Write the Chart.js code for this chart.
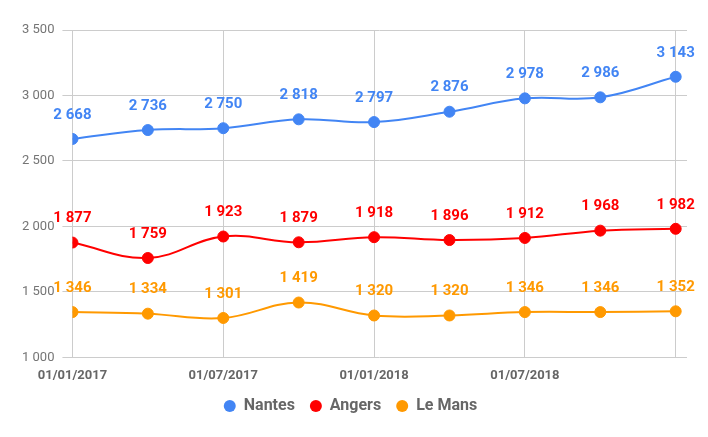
<!DOCTYPE html>
<html>
<head>
<meta charset="utf-8">
<script src="https://cdn.jsdelivr.net/npm/chart.js@4.4.1/dist/chart.umd.min.js"></script>
<style>
  html, body { margin: 0; padding: 0; background: #fff; }
  #wrap { width: 708px; height: 437px; }
</style>
</head>
<body>
<div id="wrap"><canvas id="chart" width="708" height="437"></canvas></div>
<script>
// quarterly dates, only every other one gets a label
const dates = ['01/01/2017', '01/04/2017', '01/07/2017', '01/10/2017', '01/01/2018',
  '01/04/2018', '01/07/2018', '01/10/2018', '01/01/2019'];
const tickLabels = ['01/01/2017', '', '01/07/2017', '', '01/01/2018', '', '01/07/2018', '', ''];

const nantes = [2668, 2736, 2750, 2818, 2797, 2876, 2978, 2986, 3143];
const angers = [1877, 1759, 1923, 1879, 1918, 1896, 1912, 1968, 1982];
const leMans = [1346, 1334, 1301, 1419, 1320, 1320, 1346, 1346, 1352];

const yTicks = [1000, 1500, 2000, 2500, 3000, 3500];

// french style thousands: "2 668"
const fmt = (v) => String(Math.round(v)).replace(/\B(?=(\d{3})+(?!\d))/g, ' ');

const toPoints = (arr) => arr.map((v, i) => ({ x: i, y: v }));

const makeSet = (label, values, color) => ({
  label: label,
  data: toPoints(values),
  borderColor: color,
  backgroundColor: color,
  pointBackgroundColor: color,
  pointBorderColor: color,
  pointRadius: 5.5,
  pointBorderWidth: 1,
  pointHoverRadius: 5.5,
  borderWidth: 2,
  tension: 0.4,
});

// draws the value above each point (no datalabels plugin available offline)
const valueLabels = {
  id: 'valueLabels',
  afterDatasetsDraw(chart) {
    const ctx = chart.ctx;
    ctx.save();
    ctx.font = 'bold 15px Roboto';
    ctx.textAlign = 'center';
    ctx.textBaseline = 'middle';
    chart.data.datasets.forEach((ds, di) => {
      const meta = chart.getDatasetMeta(di);
      ctx.fillStyle = ds.borderColor;
      meta.data.forEach((pt, i) => {
        ctx.fillText(fmt(ds.data[i].y), pt.x, pt.y - 24);
      });
    });
    ctx.restore();
  }
};

const ctx = document.getElementById('chart').getContext('2d');
new Chart(ctx, {
  type: 'line',
  data: {
    datasets: [
      makeSet('Nantes', nantes, '#4285F4'),
      makeSet('Angers', angers, '#FF0000'),
      makeSet('Le Mans', leMans, '#FF9900'),
    ],
  },
  options: {
    responsive: false,
    animation: false,
    layout: { padding: { left: 14, right: 21, top: 30, bottom: 13 } },
    scales: {
      x: {
        type: 'linear',
        min: 0,
        max: 8.15,
        border: { display: false },
        // pull the plot down closer to the legend
        afterFit: (axis) => { axis.height -= 12; },
        grid: {
          drawTicks: false,
          color: (c) => (c.tick && c.tick.value % 2 === 0 ? '#cccccc' : 'rgba(0,0,0,0)'),
          lineWidth: 1,
        },
        ticks: {
          stepSize: 1,
          includeBounds: false,
          autoSkip: false,
          maxRotation: 0,
          padding: 11,
          color: '#666666',
          font: { family: 'Roboto', size: 13, weight: 'bold' },
          callback: (v) => tickLabels[v] || '',
        },
      },
      y: {
        min: 1000,
        max: 3500,
        border: { display: false },
        afterBuildTicks: (axis) => { axis.ticks = yTicks.map((v) => ({ value: v })); },
        grid: { color: '#cccccc', tickLength: 10, lineWidth: 1 },
        ticks: {
          padding: 8,
          color: '#757575',
          font: { family: 'Roboto', size: 13 },
          callback: (v) => fmt(v),
        },
      },
    },
    plugins: {
      tooltip: { enabled: false },
      legend: {
        position: 'bottom',
        labels: {
          // round boxes instead of point style, so spacing can be set freely
          boxWidth: 12,
          boxHeight: 12,
          useBorderRadius: true,
          borderRadius: 6,
          padding: 15,
          color: '#666666',
          font: { family: 'Roboto', size: 16, weight: 'bold' },
          generateLabels: (chart) => {
            const items = Chart.defaults.plugins.legend.labels.generateLabels(chart);
            items.forEach((it) => { it.lineWidth = 0; });
            return items;
          },
        },
      },
    },
  },
  plugins: [valueLabels],
});
</script>
</body>
</html>
